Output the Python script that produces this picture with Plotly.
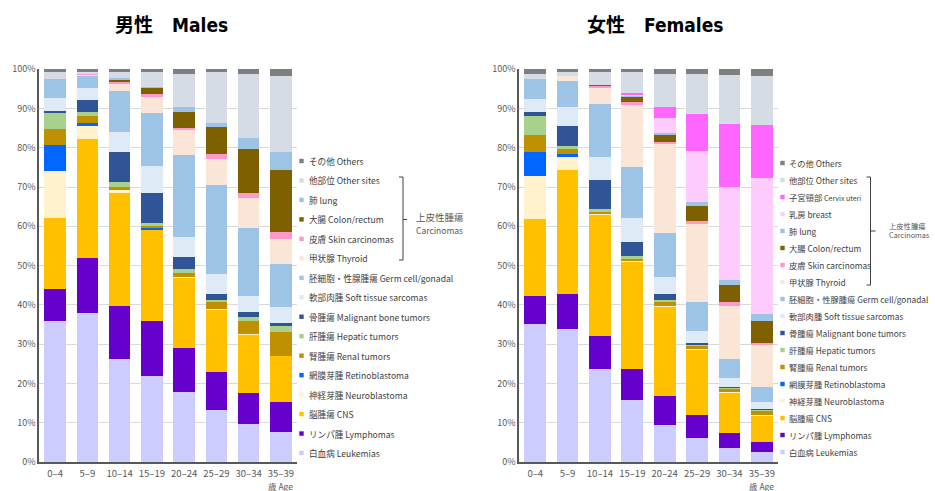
import plotly.graph_objects as go

ages = ["0–4", "5–9", "10–14", "15–19", "20–24", "25–29", "30–34", "35–39"]

# ---- Males: percentage of each category per age group (stack order bottom -> top)
m_leukemias   = [35.8, 37.9, 26.2, 21.9, 17.8, 13.3, 9.7, 7.6]
m_lymphomas   = [8.2, 14.0, 13.6, 14.1, 11.2, 9.6, 7.8, 7.7]
m_cns         = [18.0, 30.3, 28.8, 23.2, 17.9, 15.8, 14.9, 11.7]
m_neuro       = [12.2, 3.3, 0.6, 0.1, 0.3, 0.2, 0.1, 0.1]
m_retino      = [6.6, 0.7, 0.0, 0.4, 0.0, 0.0, 0.0, 0.0]
m_renal       = [3.9, 1.9, 0.9, 0.6, 0.9, 1.9, 3.5, 6.0]
m_hepatic     = [4.3, 1.1, 1.3, 0.5, 1.0, 0.5, 0.9, 1.6]
m_bone        = [0.4, 2.9, 7.4, 7.8, 3.0, 1.5, 1.4, 0.7]
m_soft        = [3.3, 3.0, 5.1, 6.7, 5.3, 5.1, 4.0, 4.0]
m_germ        = [4.9, 3.4, 10.6, 13.6, 20.7, 22.6, 17.4, 10.9]
m_thyroid     = [0.0, 0.2, 1.9, 4.1, 6.4, 6.6, 7.4, 6.4]
m_skin        = [0.0, 0.3, 0.5, 0.6, 0.6, 1.2, 1.3, 1.9]
m_colon       = [0.0, 0.0, 0.5, 1.7, 4.1, 7.0, 11.2, 15.7]
m_lung        = [0.0, 0.0, 0.3, 0.2, 1.2, 1.1, 2.9, 4.5]
m_othersites  = [1.6, 0.5, 1.6, 3.7, 8.5, 12.8, 16.4, 19.5]
m_others      = [0.8, 0.5, 0.7, 0.8, 1.1, 0.8, 1.1, 1.7]

# ---- Females
f_leukemias   = [35.2, 33.8, 23.6, 15.7, 9.5, 6.1, 3.6, 2.5]
f_lymphomas   = [7.0, 9.0, 8.6, 7.9, 7.2, 5.9, 3.9, 2.5]
f_cns         = [19.6, 31.5, 30.7, 27.4, 22.9, 16.6, 10.2, 6.9]
f_neuro       = [11.0, 3.4, 0.3, 0.2, 0.2, 0.2, 0.1, 0.1]
f_retino      = [6.0, 0.7, 0.0, 0.0, 0.0, 0.0, 0.0, 0.0]
f_renal       = [4.4, 1.4, 0.5, 0.6, 1.0, 0.8, 0.8, 1.1]
f_hepatic     = [4.9, 0.7, 0.7, 0.7, 0.5, 0.3, 0.3, 0.3]
f_bone        = [0.9, 5.0, 7.5, 3.6, 1.5, 0.5, 0.3, 0.2]
f_soft        = [3.3, 4.8, 5.8, 5.9, 4.4, 3.0, 2.2, 1.7]
f_germ        = [5.3, 6.7, 13.4, 13.2, 11.0, 7.4, 4.9, 3.9]
f_thyroid     = [0.0, 1.3, 4.2, 15.6, 22.9, 19.7, 13.5, 10.6]
f_skin        = [0.0, 0.0, 0.5, 0.9, 0.4, 0.9, 0.9, 0.5]
f_colon       = [0.0, 0.0, 0.2, 1.3, 1.7, 3.8, 4.4, 5.6]
f_lung        = [0.0, 0.0, 0.0, 0.2, 0.6, 1.1, 1.3, 1.7]
f_breast      = [0.0, 0.0, 0.0, 0.4, 3.8, 12.9, 23.5, 34.6]
f_cervix      = [0.0, 0.0, 0.0, 0.4, 2.8, 9.3, 16.1, 13.6]
f_othersites  = [1.3, 1.2, 3.2, 5.2, 8.5, 10.4, 12.5, 12.5]
f_others      = [1.1, 0.5, 0.8, 0.8, 1.1, 1.1, 1.5, 1.7]

labels = {
    "leuk": "白血病 Leukemias",
    "lymph": "リンパ腫 Lymphomas",
    "cns": "脳腫瘍 CNS",
    "neuro": "神経芽腫 Neuroblastoma",
    "retino": "網膜芽腫 Retinoblastoma",
    "renal": "腎腫瘍 Renal tumors",
    "hepatic": "肝腫瘍 Hepatic tumors",
    "bone": "骨腫瘍 Malignant bone tumors",
    "soft": "軟部肉腫 Soft tissue sarcomas",
    "germ": "胚細胞・性腺腫瘍 Germ cell/gonadal",
    "thyroid": "甲状腺 Thyroid",
    "skin": "皮膚 Skin carcinomas",
    "colon": "大腸 Colon/rectum",
    "lung": "肺 lung",
    "breast": "乳房 breast",
    "cervix": "子宮頸部 <span style='font-size:7px'>Cervix uteri</span>",
    "othersites": "他部位 Other sites",
    "others": "その他 Others",
}
colors = {
    "leuk": "#CCCCFF", "lymph": "#6600CC", "cns": "#FFC000", "neuro": "#FFF2CC",
    "retino": "#0066FF", "renal": "#BF9000", "hepatic": "#A9D18E", "bone": "#2F5597",
    "soft": "#DEEBF7", "germ": "#9DC3E6", "thyroid": "#FBE5D6", "skin": "#FF99CC",
    "colon": "#7F6000", "lung": "#9DC3E6", "breast": "#FFCCFF", "cervix": "#FF66FF",
    "othersites": "#D6DCE5", "others": "#7F7F7F",
}

male_series = [
    ("leuk", m_leukemias), ("lymph", m_lymphomas), ("cns", m_cns), ("neuro", m_neuro),
    ("retino", m_retino), ("renal", m_renal), ("hepatic", m_hepatic), ("bone", m_bone),
    ("soft", m_soft), ("germ", m_germ), ("thyroid", m_thyroid), ("skin", m_skin),
    ("colon", m_colon), ("lung", m_lung), ("othersites", m_othersites), ("others", m_others),
]
female_series = [
    ("leuk", f_leukemias), ("lymph", f_lymphomas), ("cns", f_cns), ("neuro", f_neuro),
    ("retino", f_retino), ("renal", f_renal), ("hepatic", f_hepatic), ("bone", f_bone),
    ("soft", f_soft), ("germ", f_germ), ("thyroid", f_thyroid), ("skin", f_skin),
    ("colon", f_colon), ("lung", f_lung), ("breast", f_breast), ("cervix", f_cervix),
    ("othersites", f_othersites), ("others", f_others),
]

W, H = 935, 491
FONT = "Noto Sans CJK JP"
TITLE_FONT = "DejaVu Sans Condensed, Noto Sans CJK JP"

def px(x):
    return x / W

def py(y):
    return 1 - y / H

fig = go.Figure()
for key, vals in male_series:
    fig.add_trace(go.Bar(x=ages, y=vals, name=labels[key], marker_color=colors[key],
                         marker_line_width=0, xaxis="x", yaxis="y", showlegend=False))
for key, vals in female_series:
    fig.add_trace(go.Bar(x=ages, y=vals, name=labels[key], marker_color=colors[key],
                         marker_line_width=0, xaxis="x2", yaxis="y2", showlegend=False))

ydom = [py(462), py(69)]
axis_common_y = dict(range=[0, 100.05], tickvals=list(range(0, 101, 10)),
                     ticktext=[f"{v}%" for v in range(0, 101, 10)],
                     showgrid=True, gridcolor="#D9D9D9", gridwidth=1,
                     showline=True, linecolor="#595959", linewidth=1.5,
                     ticks="", tickfont=dict(family=FONT, size=9, color="#595959"),
                     zeroline=False, domain=ydom, fixedrange=True, automargin=False)
axis_common_x = dict(showline=True, linecolor="#595959", linewidth=1.5, ticks="",
                     tickfont=dict(family=FONT, size=9.5, color="#595959"),
                     ticklabelstandoff=2,
                     showgrid=False, fixedrange=True, automargin=False)

shapes = []
annotations = []

def legend(series, x_marker, x_text, y_top, y_bot, fsize):
    items = [k for k, _ in series][::-1]
    n = len(items)
    step = (y_bot - y_top) / (n - 1)
    for i, k in enumerate(items):
        yy = y_top + i * step
        shapes.append(dict(type="rect", xref="paper", yref="paper",
                           x0=px(x_marker - 2.2), x1=px(x_marker + 2.2),
                           y0=py(yy + 2.2), y1=py(yy - 2.2),
                           fillcolor=colors[k], line_width=0))
        annotations.append(dict(text=labels[k], xref="paper", yref="paper",
                                x=px(x_text), y=py(yy), xanchor="left", yanchor="middle",
                                showarrow=False, font=dict(family=FONT, size=fsize, color="#404040")))

def bracket(xv, y0, y1, ymid, tick_l, tick_r, xt, yt1, yt2, fs1, fs2):
    line = dict(color="#404040", width=1)
    shapes.append(dict(type="line", xref="paper", yref="paper", x0=px(xv), x1=px(xv),
                       y0=py(y0), y1=py(y1), line=line))
    shapes.append(dict(type="line", xref="paper", yref="paper", x0=px(xv - tick_l), x1=px(xv),
                       y0=py(y0), y1=py(y0), line=line))
    shapes.append(dict(type="line", xref="paper", yref="paper", x0=px(xv - tick_l), x1=px(xv),
                       y0=py(y1), y1=py(y1), line=line))
    shapes.append(dict(type="line", xref="paper", yref="paper", x0=px(xv), x1=px(xv + tick_r),
                       y0=py(ymid), y1=py(ymid), line=line))
    annotations.append(dict(text="上皮性腫瘍", xref="paper", yref="paper", x=px(xt), y=py(yt1),
                            xanchor="left", yanchor="middle", showarrow=False,
                            font=dict(family=FONT, size=fs1, color="#595959")))
    annotations.append(dict(text="Carcinomas", xref="paper", yref="paper", x=px(xt), y=py(yt2),
                            xanchor="left", yanchor="middle", showarrow=False,
                            font=dict(family=FONT, size=fs2, color="#595959")))

legend(male_series, 301.5, 307, 161, 453, 8.6)
legend(female_series, 782.5, 787, 163, 452, 8.3)
bracket(403, 177, 260, 219.5, 4, 4, 414, 217, 230, 9.5, 8.5)
bracket(870.5, 177, 285, 231, 4, 5, 887, 226, 235, 7.3, 7.3)

# titles
annotations.append(dict(text="<b>男性　Males</b>", xref="paper", yref="paper", x=px(171), y=py(25),
                        xanchor="center", yanchor="middle", showarrow=False,
                        font=dict(family=TITLE_FONT, size=19, color="#000000")))
annotations.append(dict(text="<b>女性　Females</b>", xref="paper", yref="paper", x=px(655), y=py(25),
                        xanchor="center", yanchor="middle", showarrow=False,
                        font=dict(family=TITLE_FONT, size=19, color="#000000")))
# age unit
for xa in ("x", "x2"):
    annotations.append(dict(text="歳 Age", xref=xa, yref="paper", x=ages[-1], y=py(485.5),
                            xanchor="center", yanchor="middle", showarrow=False,
                            font=dict(family=FONT, size=8.5, color="#595959")))

fig.update_layout(
    template="none",
    width=W, height=H, margin=dict(l=0, r=0, t=0, b=0, pad=0),
    paper_bgcolor="white", plot_bgcolor="white",
    barmode="stack", bargap=0.33,
    xaxis=dict(domain=[px(39), px(297)], anchor="y", **axis_common_x),
    yaxis=dict(anchor="x", **axis_common_y),
    xaxis2=dict(domain=[px(519), px(778)], anchor="y2", **axis_common_x),
    yaxis2=dict(anchor="x2", **axis_common_y),
    shapes=shapes, annotations=annotations,
    font=dict(family=FONT),
)

fig.write_html("out.html")
